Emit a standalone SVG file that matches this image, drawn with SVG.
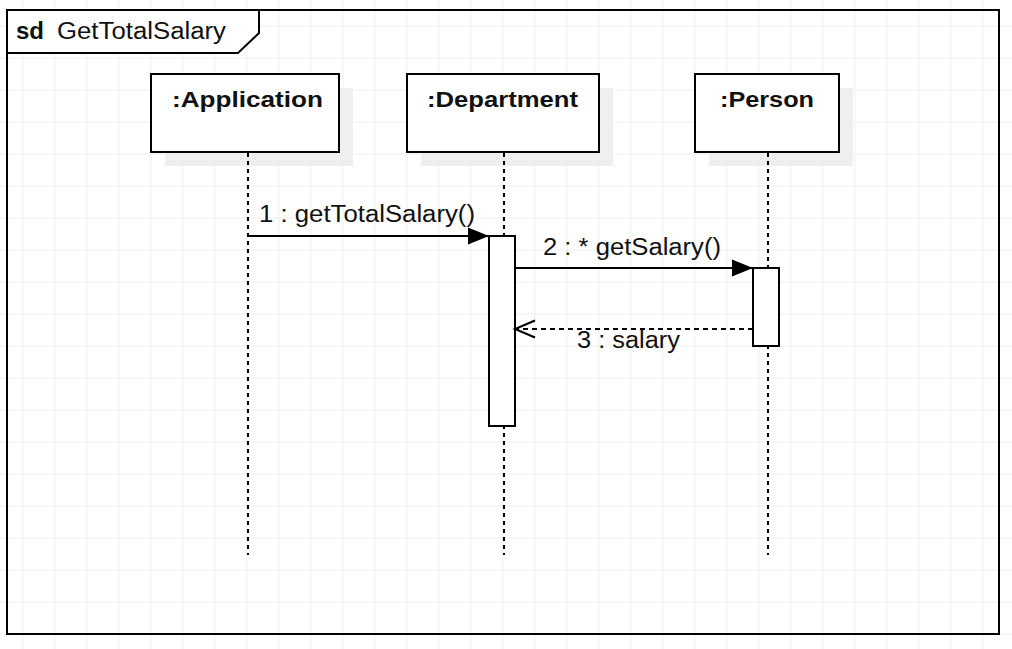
<svg xmlns="http://www.w3.org/2000/svg" width="1012" height="649" viewBox="0 0 1012 649">
<defs>
<style>
.grid line{stroke:#efefef;stroke-width:1}
.box{fill:#fff;stroke:#000;stroke-width:2}
.shadow{fill:#efefef}
.life{stroke:#000;stroke-width:2;stroke-dasharray:4 4;fill:none}
.act{fill:#fff;stroke:#000;stroke-width:2}
.msg{stroke:#000;stroke-width:2;fill:none}
.ret{stroke:#000;stroke-width:2;fill:none;stroke-dasharray:5 4}
.t{font-family:"Liberation Sans",Arial,sans-serif;fill:#111}
.name{font-size:22px;font-weight:bold}
.lbl{font-size:23px}
</style>
<marker id="filled" markerUnits="userSpaceOnUse" markerWidth="22" markerHeight="18" refX="21" refY="8.5" orient="auto" overflow="visible">
<path d="M0,0 L21,8.5 L0,17 Z" fill="#000"/>
</marker>
<marker id="open" markerUnits="userSpaceOnUse" markerWidth="22" markerHeight="18" refX="20" refY="8.5" orient="auto" overflow="visible">
<path d="M0,0 L20,8.5 L0,17" fill="none" stroke="#000" stroke-width="2"/>
</marker>
</defs>
<rect width="1012" height="649" fill="#fff"/>
<g class="grid">
<line x1="23" y1="0" x2="23" y2="649"/><line x1="55" y1="0" x2="55" y2="649"/><line x1="87" y1="0" x2="87" y2="649"/><line x1="119" y1="0" x2="119" y2="649"/><line x1="151" y1="0" x2="151" y2="649"/><line x1="183" y1="0" x2="183" y2="649"/><line x1="215" y1="0" x2="215" y2="649"/><line x1="247" y1="0" x2="247" y2="649"/><line x1="279" y1="0" x2="279" y2="649"/><line x1="311" y1="0" x2="311" y2="649"/><line x1="343" y1="0" x2="343" y2="649"/><line x1="375" y1="0" x2="375" y2="649"/><line x1="407" y1="0" x2="407" y2="649"/><line x1="439" y1="0" x2="439" y2="649"/><line x1="471" y1="0" x2="471" y2="649"/><line x1="503" y1="0" x2="503" y2="649"/><line x1="535" y1="0" x2="535" y2="649"/><line x1="567" y1="0" x2="567" y2="649"/><line x1="599" y1="0" x2="599" y2="649"/><line x1="631" y1="0" x2="631" y2="649"/><line x1="663" y1="0" x2="663" y2="649"/><line x1="695" y1="0" x2="695" y2="649"/><line x1="727" y1="0" x2="727" y2="649"/><line x1="759" y1="0" x2="759" y2="649"/><line x1="791" y1="0" x2="791" y2="649"/><line x1="823" y1="0" x2="823" y2="649"/><line x1="855" y1="0" x2="855" y2="649"/><line x1="887" y1="0" x2="887" y2="649"/><line x1="919" y1="0" x2="919" y2="649"/><line x1="951" y1="0" x2="951" y2="649"/><line x1="983" y1="0" x2="983" y2="649"/>
<line x1="0" y1="26" x2="1012" y2="26"/><line x1="0" y1="58" x2="1012" y2="58"/><line x1="0" y1="90" x2="1012" y2="90"/><line x1="0" y1="122" x2="1012" y2="122"/><line x1="0" y1="154" x2="1012" y2="154"/><line x1="0" y1="186" x2="1012" y2="186"/><line x1="0" y1="218" x2="1012" y2="218"/><line x1="0" y1="250" x2="1012" y2="250"/><line x1="0" y1="282" x2="1012" y2="282"/><line x1="0" y1="314" x2="1012" y2="314"/><line x1="0" y1="346" x2="1012" y2="346"/><line x1="0" y1="378" x2="1012" y2="378"/><line x1="0" y1="410" x2="1012" y2="410"/><line x1="0" y1="442" x2="1012" y2="442"/><line x1="0" y1="474" x2="1012" y2="474"/><line x1="0" y1="506" x2="1012" y2="506"/><line x1="0" y1="538" x2="1012" y2="538"/><line x1="0" y1="570" x2="1012" y2="570"/><line x1="0" y1="602" x2="1012" y2="602"/><line x1="0" y1="634" x2="1012" y2="634"/>
</g>
<g id="frame">
<rect x="7" y="10" width="992" height="624" fill="none" stroke="#000" stroke-width="2"/>
<path d="M7,10 L259,10 L259,33 L238,53 L7,53 Z" fill="#fff" stroke="#000" stroke-width="2"/>
<text class="t" x="16" y="39" font-size="23" font-weight="bold" textLength="28" lengthAdjust="spacingAndGlyphs">sd</text>
<text class="t" x="57" y="39" font-size="23" textLength="169" lengthAdjust="spacingAndGlyphs">GetTotalSalary</text>
</g>
<g id="application">
<rect class="shadow" x="165" y="88" width="188" height="78"/>
<rect class="box" x="151" y="74" width="188" height="78"/>
<text class="t name" x="172" y="107" textLength="151" lengthAdjust="spacingAndGlyphs">:Application</text>
</g>
<g id="department">
<rect class="shadow" x="421" y="88" width="192" height="78"/>
<rect class="box" x="407" y="74" width="192" height="78"/>
<text class="t name" x="427" y="107" textLength="151" lengthAdjust="spacingAndGlyphs">:Department</text>
</g>
<g id="person">
<rect class="shadow" x="709" y="88" width="144" height="78"/>
<rect class="box" x="695" y="74" width="144" height="78"/>
<text class="t name" x="720" y="107" textLength="94" lengthAdjust="spacingAndGlyphs">:Person</text>
</g>
<g id="lifelines">
<line class="life" x1="248" y1="153" x2="248" y2="555"/>
<line class="life" x1="504" y1="153" x2="504" y2="555"/>
<line class="life" x1="768" y1="153" x2="768" y2="555"/>
</g>
<g id="activation-department">
<rect class="act" x="489" y="236" width="26" height="190"/>
</g>
<g id="activation-person">
<rect class="act" x="753" y="268" width="26" height="78"/>
</g>
<g id="connectors">
<line class="msg" x1="248" y1="236" x2="489" y2="236" marker-end="url(#filled)"/>
<line class="msg" x1="515" y1="268" x2="753" y2="268" marker-end="url(#filled)"/>
<line class="ret" x1="753" y1="329" x2="515" y2="329" marker-end="url(#open)"/>
<text class="t lbl" x="259" y="222" textLength="216" lengthAdjust="spacingAndGlyphs">1 : getTotalSalary()</text>
<text class="t lbl" x="543" y="255" textLength="178" lengthAdjust="spacingAndGlyphs">2 : * getSalary()</text>
<text class="t lbl" x="577" y="348" textLength="103" lengthAdjust="spacingAndGlyphs">3 : salary</text>
</g>
</svg>
